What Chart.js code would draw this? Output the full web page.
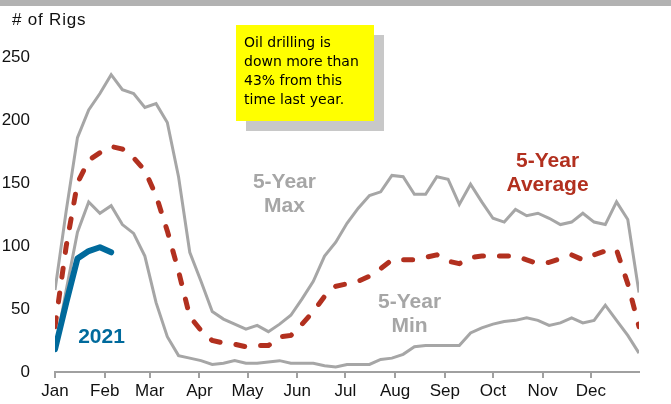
<!DOCTYPE html>
<html>
<head>
<meta charset="utf-8">
<script src="https://cdn.jsdelivr.net/npm/chart.js@4.4.1/dist/chart.umd.min.js"></script>
<style>
  html, body { margin: 0; padding: 0; background: #fff; }
  canvas { display: block; }
</style>
</head>
<body>
<canvas id="rigs" width="671" height="404"></canvas>
<script>
const MONTHS = ['Jan', 'Feb', 'Mar', 'Apr', 'May', 'Jun', 'Jul', 'Aug', 'Sep', 'Oct', 'Nov', 'Dec'];
const MONTH_START = [0, 31, 59, 90, 120, 151, 181, 212, 243, 273, 304, 334];

// weekly rig counts, week 0 = first week of January
const max5yr = [65, 128, 186, 208, 221, 236, 224, 221, 210, 213, 198, 155, 95, 72, 48, 42, 38, 34, 37, 32,
  38, 45, 58, 72, 92, 103, 118, 130, 140, 143, 156, 155, 141, 141, 155, 153, 133, 149, 135, 122,
  119, 129, 124, 126, 122, 117, 119, 126, 119, 117, 135, 121, 63];
const avg5yr = [36, 100, 150, 168, 174, 179, 177, 170, 160, 140, 112, 80, 44, 33, 25, 23, 22, 20, 21, 21,
  28, 29, 38, 48, 60, 68, 70, 72, 76, 82, 89, 89, 89, 91, 93, 88, 86, 91, 92, 92,
  92, 92, 89, 86, 87, 90, 93, 89, 93, 96, 97, 70, 36];
const min5yr = [17, 65, 111, 135, 126, 132, 117, 110, 92, 55, 28, 13, 11, 9, 6, 7, 9, 7, 7, 8,
  9, 7, 7, 7, 5, 4, 6, 6, 6, 10, 11, 14, 20, 21, 21, 21, 21, 31, 35, 38,
  40, 41, 43, 41, 37, 39, 43, 39, 41, 53, 41, 29, 15];
const rigs2021 = [18, 55, 90, 96, 99, 95];

const GREY = '#a6a6a6';
const RED = '#b2301f';
const BLUE = '#006a9c';
const FONT = "'Liberation Sans', Arial, sans-serif";

const toPoints = (values) => values.map((v, i) => ({ x: i * 7, y: v }));

// text labels placed in data coordinates (day of year, rig count)
const seriesLabels = [
  { lines: ['2021'], day: 29, value: 28, color: BLUE },
  { lines: ['5-Year', 'Max'], day: 143, value: 151, color: GREY },
  { lines: ['5-Year', 'Average'], day: 307, value: 167, color: RED },
  { lines: ['5-Year', 'Min'], day: 221, value: 55, color: GREY },
];

const noteLines = ['Oil drilling is', 'down more than', '43% from this', 'time last year.'];

const decorations = {
  id: 'decorations',
  beforeDraw(chart) {
    const { ctx } = chart;
    ctx.save();
    ctx.fillStyle = '#fff';
    ctx.fillRect(0, 0, chart.width, chart.height);
    ctx.fillStyle = '#b2b2b2';
    ctx.fillRect(0, 0, chart.width, 6);
    ctx.fillStyle = '#111';
    ctx.font = `17px ${FONT}`;
    ctx.letterSpacing = '0.8px';
    ctx.textBaseline = 'middle';
    ctx.fillText('# of Rigs', 12, 20);
    ctx.restore();
  },
  afterDatasetsDraw(chart) {
    const { ctx, scales: { x, y } } = chart;
    ctx.save();

    // callout box with drop shadow
    ctx.fillStyle = '#c8c8c8';
    ctx.fillRect(246, 35, 138, 96);
    ctx.fillStyle = '#ffff00';
    ctx.fillRect(236, 25, 138, 96);
    ctx.fillStyle = '#000';
    ctx.font = "14px 'Comic Sans MS', 'DejaVu Sans', sans-serif";
    ctx.textBaseline = 'middle';
    noteLines.forEach((line, i) => ctx.fillText(line, 244, 43 + i * 19));

    ctx.textAlign = 'center';
    ctx.font = `bold 21px ${FONT}`;
    seriesLabels.forEach((lab) => {
      const px = x.getPixelForValue(lab.day);
      const py = y.getPixelForValue(lab.value);
      ctx.fillStyle = lab.color;
      lab.lines.forEach((line, i) => ctx.fillText(line, px, py + i * 24));
    });
    ctx.restore();
  },
};

new Chart(document.getElementById('rigs'), {
  type: 'line',
  data: {
    datasets: [
      {
        label: '2021',
        data: toPoints(rigs2021),
        borderColor: BLUE,
        borderWidth: 6,
        borderCapStyle: 'round',
        borderJoinStyle: 'round',
      },
      {
        label: '5-Year Average',
        data: toPoints(avg5yr),
        borderColor: RED,
        borderWidth: 5,
        borderDash: [9, 16],
        borderCapStyle: 'round',
      },
      {
        label: '5-Year Max',
        data: toPoints(max5yr),
        borderColor: GREY,
        borderWidth: 3,
      },
      {
        label: '5-Year Min',
        data: toPoints(min5yr),
        borderColor: GREY,
        borderWidth: 3,
      },
    ],
  },
  options: {
    responsive: false,
    animation: false,
    devicePixelRatio: 1,
    layout: { padding: { top: 57, right: 32, left: 0, bottom: 0 } },
    elements: { point: { radius: 0 }, line: { tension: 0, fill: false } },
    plugins: { legend: { display: false }, tooltip: { enabled: false } },
    scales: {
      x: {
        type: 'linear',
        min: 0,
        max: 364,
        afterBuildTicks: (scale) => {
          scale.ticks = MONTH_START.map((value) => ({ value }));
        },
        afterFit: (scale) => { scale.height = 32; },
        grid: {
          drawOnChartArea: false,
          drawTicks: true,
          tickLength: 6,
          color: '#a0a0a0',
          lineWidth: 2,
        },
        border: { display: true, color: '#a0a0a0', width: 2 },
        ticks: {
          autoSkip: false,
          maxRotation: 0,
          padding: 3,
          color: '#111',
          font: { family: FONT, size: 17 },
          callback: (value) => MONTHS[MONTH_START.indexOf(value)],
        },
      },
      y: {
        min: 0,
        max: 250,
        afterFit: (scale) => { scale.width = 55; },
        grid: { display: false },
        border: { display: false },
        ticks: {
          stepSize: 50,
          padding: 17,
          color: '#111',
          font: { family: FONT, size: 17 },
        },
      },
    },
  },
  plugins: [decorations],
});
</script>
</body>
</html>
